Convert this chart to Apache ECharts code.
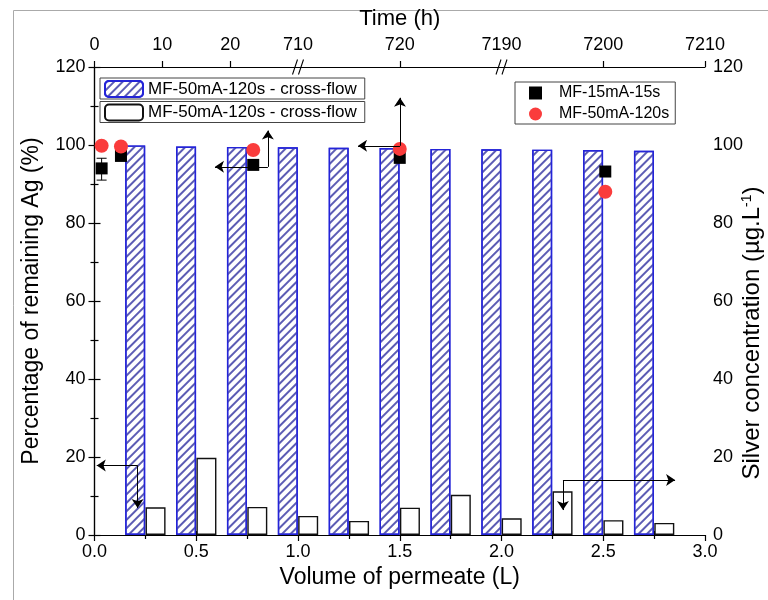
<!DOCTYPE html>
<html>
<head>
<meta charset="utf-8">
<script src="https://cdn.jsdelivr.net/npm/echarts@6/dist/echarts.min.js"></script>
<style>
html, body { margin: 0; background: #fff; }
#main { width: 768px; height: 600px; }
</style>
</head>
<body>
<div id="main"></div>
<script>
// bars: volume of permeate (L)
var volHatch = [0.2, 0.45, 0.7, 0.95, 1.2, 1.45, 1.7, 1.95, 2.2, 2.45, 2.7];
var pctHatch = [99.9, 99.6, 99.5, 99.4, 99.3, 99.2, 99.0, 98.9, 98.8, 98.7, 98.5];
var volOpen = [0.3, 0.55, 0.8, 1.05, 1.3, 1.55, 1.8, 2.05, 2.3, 2.55, 2.8];
var concOpen = [7.1, 19.8, 7.2, 4.9, 3.6, 7.0, 10.3, 4.3, 11.2, 3.8, 3.1];

// points
var volPts = [0.035, 0.13, 0.78, 1.5, 2.51];
var pct15 = [94.0, 97.2, 94.9, 96.7, 93.2];
var pct50 = [99.8, 99.6, 98.7, 99.0, 88.0];
var err15 = [[0.035, 91.0, 96.6]];

// top time axis (positions in L)
var timePos = [0, 1 / 3, 2 / 3, 1, 1.5, 2, 2.5, 3];
var timeLabels = ['0', '10', '20', '710', '720', '7190', '7200', '7210'];
var timeMajor = [0, 1 / 3, 2 / 3, 1.5, 2.5, 3];
var timeMinor = [1 / 6, 0.5, 5 / 6, 1.25, 1.75, 2.25, 2.75];
var breakPos = [1, 2];

// arrows [from, to]
var arrows = [
    [[0.852, 94.4], [0.592, 94.4]],
    [[0.852, 94.4], [0.852, 103.7]],
    [[1.501, 99.8], [1.295, 99.8]],
    [[1.501, 99.8], [1.501, 112.1]],
    [[0.212, 17.8], [0.011, 17.8]],
    [[0.212, 17.8], [0.212, 6.9]],
    [[2.302, 14.1], [2.853, 14.1]],
    [[2.302, 14.1], [2.302, 6.4]]
];

var FONT = 'Liberation Sans, Arial, sans-serif';
var chart = echarts.init(document.getElementById('main'));

function pair(xs, ys) {
    return xs.map(function (x, i) { return [x, ys[i]]; });
}

function renderErr(params, api) {
    var x = api.value(0);
    var lo = api.coord([x, api.value(1)]);
    var hi = api.coord([x, api.value(2)]);
    var w = 5;
    var st = { stroke: '#000', lineWidth: 1 };
    return {
        type: 'group',
        children: [
            { type: 'line', shape: { x1: lo[0], y1: lo[1], x2: hi[0], y2: hi[1] }, style: st },
            { type: 'line', shape: { x1: lo[0] - w, y1: lo[1], x2: lo[0] + w, y2: lo[1] }, style: st },
            { type: 'line', shape: { x1: hi[0] - w, y1: hi[1], x2: hi[0] + w, y2: hi[1] }, style: st }
        ]
    };
}

var labelStyle = { color: '#000', fontSize: 18, fontFamily: FONT };
var nameStyle = { color: '#000', fontSize: 23, fontFamily: FONT };
var lineStyle = { color: '#000', width: 1.2 };
var legendText = { fontSize: 17, color: '#000', fontFamily: FONT };

chart.setOption({
    animation: false,
    textStyle: { fontFamily: FONT },
    graphic: [{
        type: 'rect',
        left: 11, top: 8,
        shape: { width: 900, height: 700 },
        style: { fill: 'none', stroke: '#aaa', lineWidth: 1 },
        silent: true
    }],
    grid: { left: 94.5, right: 63, top: 67, bottom: 65, outerBoundsMode: 'none', containLabel: false },
    legend: [{
        data: ['hatch'],
        left: 100, top: 78,
        padding: [2, 8, 1, 4],
        borderColor: '#444', borderWidth: 1,
        itemWidth: 38, itemHeight: 16,
        formatter: function () { return 'MF-50mA-120s - cross-flow'; },
        textStyle: legendText
    }, {
        data: ['open'],
        left: 100, top: 101.5,
        padding: [2, 8, 1, 4],
        borderColor: '#444', borderWidth: 1,
        itemWidth: 38, itemHeight: 16,
        formatter: function () { return 'MF-50mA-120s - cross-flow'; },
        textStyle: legendText
    }, {
        data: ['MF-15mA-15s', 'MF-50mA-120s'],
        orient: 'vertical',
        left: 515, top: 82,
        padding: [3, 6, 2, 14],
        itemGap: 5,
        borderColor: '#444', borderWidth: 1,
        itemWidth: 13, itemHeight: 13,
        textStyle: Object.assign({ padding: [0, 0, 0, 12] }, legendText, { fontSize: 16 })
    }],
    xAxis: [{
        type: 'value', position: 'bottom',
        min: 0, max: 3, interval: 0.5,
        name: 'Volume of permeate (L)', nameLocation: 'middle', nameGap: 31,
        nameMoveOverlap: false,
        nameTextStyle: nameStyle,
        axisLine: { show: true, lineStyle: lineStyle },
        axisTick: { show: true, length: 6, lineStyle: lineStyle },
        minorTick: { show: true, splitNumber: 2, length: 4, lineStyle: lineStyle },
        splitLine: { show: false },
        axisLabel: Object.assign({ margin: 8, formatter: function (v) { return v.toFixed(1); } }, labelStyle)
    }, {
        type: 'value', position: 'top',
        min: 0, max: 3,
        name: 'Time (h)', nameLocation: 'middle', nameGap: 37,
        nameMoveOverlap: false,
        nameTextStyle: Object.assign({}, nameStyle, { fontSize: 22 }),
        axisLine: { show: true, onZero: false, lineStyle: lineStyle },
        axisTick: { show: true, length: 6, customValues: timeMajor, lineStyle: lineStyle },
        splitLine: { show: false },
        axisLabel: Object.assign({
            margin: 13,
            customValues: timePos,
            formatter: function (v) {
                for (var i = 0; i < timePos.length; i++) {
                    if (Math.abs(timePos[i] - v) < 1e-6) return timeLabels[i];
                }
                return '';
            }
        }, labelStyle)
    }, {
        type: 'value', position: 'top',
        min: 0, max: 3,
        axisLine: { show: false },
        axisTick: { show: true, length: 4, customValues: timeMinor, lineStyle: lineStyle },
        axisLabel: { show: false },
        splitLine: { show: false }
    }],
    yAxis: [{
        type: 'value', position: 'left',
        min: 0, max: 120, interval: 20,
        name: 'Percentage of remaining Ag (%)', nameLocation: 'middle', nameGap: 51,
        nameMoveOverlap: false,
        nameTextStyle: nameStyle,
        axisLine: { show: true, lineStyle: lineStyle },
        axisTick: { show: true, length: 6, lineStyle: lineStyle },
        minorTick: { show: true, splitNumber: 2, length: 4, lineStyle: lineStyle },
        splitLine: { show: false },
        axisLabel: Object.assign({ margin: 9 }, labelStyle)
    }, {
        type: 'value', position: 'right',
        min: 0, max: 120, interval: 20,
        name: 'Silver concentration (µg.L{sup|-1})', nameLocation: 'middle', nameGap: 35,
        nameMoveOverlap: false,
        nameTextStyle: Object.assign({}, nameStyle, {
            fontSize: 24,
            padding: [0, 64, 0, 0],
            rich: { sup: { fontSize: 14, verticalAlign: 'top', padding: [0, 0, 10, 0], color: '#000', fontFamily: FONT } }
        }),
        axisLine: { show: true, lineStyle: lineStyle },
        axisTick: { show: true, length: 6, lineStyle: lineStyle },
        minorTick: { show: true, splitNumber: 2, length: 4, lineStyle: lineStyle },
        splitLine: { show: false },
        axisLabel: Object.assign({ margin: 8 }, labelStyle)
    }],
    series: [{
        name: 'hatch',
        type: 'bar',
        xAxisIndex: 0, yAxisIndex: 0,
        barWidth: 20, barGap: '-100%',
        data: pair(volHatch, pctHatch),
        itemStyle: {
            color: '#fff',
            borderColor: '#2424d8', borderWidth: 1.4,
            decal: {
                symbol: 'rect', symbolSize: 1,
                dashArrayX: [1, 0], dashArrayY: [1.2, 3.3],
                rotation: -Math.PI / 4,
                color: '#5c5cb4'
            }
        }
    }, {
        name: 'open',
        type: 'bar',
        xAxisIndex: 0, yAxisIndex: 1,
        barWidth: 20, barGap: '-100%',
        data: pair(volOpen, concOpen),
        itemStyle: { color: '#fff', borderColor: '#111', borderWidth: 1.4 }
    }, {
        name: 'err',
        type: 'custom',
        xAxisIndex: 0, yAxisIndex: 0,
        renderItem: renderErr,
        data: err15,
        z: 3
    }, {
        name: 'MF-15mA-15s',
        type: 'scatter',
        xAxisIndex: 0, yAxisIndex: 0,
        symbol: 'rect', symbolSize: 12,
        itemStyle: { color: '#000', opacity: 1 },
        data: pair(volPts, pct15),
        z: 4
    }, {
        name: 'MF-50mA-120s',
        type: 'scatter',
        xAxisIndex: 0, yAxisIndex: 0,
        symbol: 'circle', symbolSize: 14,
        itemStyle: { color: '#fa3c3c', opacity: 1 },
        data: pair(volPts, pct50),
        z: 4
    }, {
        name: 'arrows',
        type: 'lines',
        coordinateSystem: 'cartesian2d',
        xAxisIndex: 0, yAxisIndex: 0,
        symbol: ['none', 'arrow'], symbolSize: 9,
        lineStyle: { color: '#000', width: 1, opacity: 1 },
        data: arrows.map(function (a) { return { coords: a }; }),
        z: 5
    }, {
        name: 'breaks',
        type: 'scatter',
        xAxisIndex: 2, yAxisIndex: 0,
        clip: false,
        symbol: 'path://M0,16L5,0M6,16L11,0',
        symbolSize: [11, 15],
        itemStyle: { color: 'none', borderColor: '#000', borderWidth: 1.3, opacity: 1 },
        data: breakPos.map(function (x) { return [x, 120]; }),
        z: 6
    }]
});
</script>
</body>
</html>
